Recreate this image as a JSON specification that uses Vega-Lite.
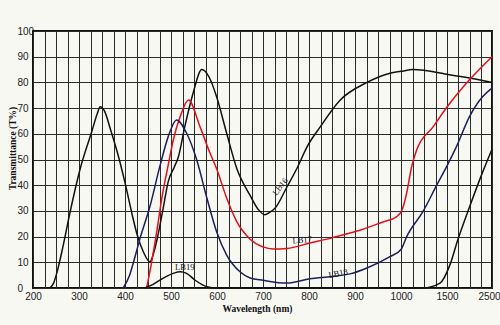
{
  "$schema": "https://vega.github.io/schema/vega-lite/v6.json",
  "width": 459,
  "height": 257,
  "autosize": "none",
  "padding": {"left": 33, "top": 31, "right": 8, "bottom": 37},
  "background": "#f8f8f3",
  "config": {
    "view": {"stroke": "#111111", "strokeWidth": 2},
    "font": "Liberation Serif"
  },
  "datasets": {
    "curves": [
      {"series": "LB16", "wavelength": 237, "T": 0},
      {"series": "LB16", "wavelength": 245, "T": 2},
      {"series": "LB16", "wavelength": 252, "T": 6},
      {"series": "LB16", "wavelength": 265, "T": 16},
      {"series": "LB16", "wavelength": 280, "T": 29},
      {"series": "LB16", "wavelength": 302, "T": 46},
      {"series": "LB16", "wavelength": 328, "T": 61},
      {"series": "LB16", "wavelength": 340, "T": 68},
      {"series": "LB16", "wavelength": 346, "T": 70.5},
      {"series": "LB16", "wavelength": 355, "T": 69},
      {"series": "LB16", "wavelength": 368, "T": 62},
      {"series": "LB16", "wavelength": 383, "T": 53},
      {"series": "LB16", "wavelength": 400, "T": 41},
      {"series": "LB16", "wavelength": 415, "T": 29},
      {"series": "LB16", "wavelength": 426, "T": 21},
      {"series": "LB16", "wavelength": 440, "T": 14},
      {"series": "LB16", "wavelength": 454, "T": 10.2},
      {"series": "LB16", "wavelength": 465, "T": 15.4},
      {"series": "LB16", "wavelength": 483, "T": 31},
      {"series": "LB16", "wavelength": 494, "T": 41.4},
      {"series": "LB16", "wavelength": 507, "T": 47},
      {"series": "LB16", "wavelength": 516, "T": 51},
      {"series": "LB16", "wavelength": 530, "T": 62.8},
      {"series": "LB16", "wavelength": 548, "T": 75.8},
      {"series": "LB16", "wavelength": 567, "T": 85},
      {"series": "LB16", "wavelength": 583, "T": 82},
      {"series": "LB16", "wavelength": 599, "T": 74.5},
      {"series": "LB16", "wavelength": 621, "T": 60.2},
      {"series": "LB16", "wavelength": 643, "T": 46.5},
      {"series": "LB16", "wavelength": 672, "T": 36},
      {"series": "LB16", "wavelength": 690, "T": 30.5},
      {"series": "LB16", "wavelength": 704, "T": 28.5},
      {"series": "LB16", "wavelength": 715, "T": 29.5},
      {"series": "LB16", "wavelength": 726, "T": 31},
      {"series": "LB16", "wavelength": 752, "T": 39.3},
      {"series": "LB16", "wavelength": 775, "T": 47},
      {"series": "LB16", "wavelength": 796, "T": 55},
      {"series": "LB16", "wavelength": 824, "T": 62.6},
      {"series": "LB16", "wavelength": 867, "T": 73},
      {"series": "LB16", "wavelength": 926, "T": 80},
      {"series": "LB16", "wavelength": 976, "T": 83.6},
      {"series": "LB16", "wavelength": 1000, "T": 84.3},
      {"series": "LB16", "wavelength": 1130, "T": 85},
      {"series": "LB16", "wavelength": 1550, "T": 83},
      {"series": "LB16", "wavelength": 2000, "T": 81.7},
      {"series": "LB16", "wavelength": 2500, "T": 80},

      {"series": "LB17", "wavelength": 447, "T": 0},
      {"series": "LB17", "wavelength": 458, "T": 10.2},
      {"series": "LB17", "wavelength": 469, "T": 21.9},
      {"series": "LB17", "wavelength": 480, "T": 34.9},
      {"series": "LB17", "wavelength": 494, "T": 47.9},
      {"series": "LB17", "wavelength": 505, "T": 57.6},
      {"series": "LB17", "wavelength": 520, "T": 66.7},
      {"series": "LB17", "wavelength": 538, "T": 73.2},
      {"series": "LB17", "wavelength": 563, "T": 62.8},
      {"series": "LB17", "wavelength": 585, "T": 52.4},
      {"series": "LB17", "wavelength": 599, "T": 46.5},
      {"series": "LB17", "wavelength": 621, "T": 35},
      {"series": "LB17", "wavelength": 643, "T": 25.8},
      {"series": "LB17", "wavelength": 672, "T": 19},
      {"series": "LB17", "wavelength": 700, "T": 16},
      {"series": "LB17", "wavelength": 722, "T": 15.2},
      {"series": "LB17", "wavelength": 752, "T": 15.4},
      {"series": "LB17", "wavelength": 802, "T": 17.5},
      {"series": "LB17", "wavelength": 850, "T": 19.5},
      {"series": "LB17", "wavelength": 889, "T": 21.4},
      {"series": "LB17", "wavelength": 911, "T": 22.5},
      {"series": "LB17", "wavelength": 962, "T": 25.8},
      {"series": "LB17", "wavelength": 990, "T": 27.7},
      {"series": "LB17", "wavelength": 1007, "T": 30},
      {"series": "LB17", "wavelength": 1035, "T": 33},
      {"series": "LB17", "wavelength": 1062, "T": 37},
      {"series": "LB17", "wavelength": 1116, "T": 47.2},
      {"series": "LB17", "wavelength": 1170, "T": 53.7},
      {"series": "LB17", "wavelength": 1351, "T": 62.8},
      {"series": "LB17", "wavelength": 1500, "T": 70.4},
      {"series": "LB17", "wavelength": 2000, "T": 81},
      {"series": "LB17", "wavelength": 2500, "T": 90},

      {"series": "LB18", "wavelength": 396, "T": 0},
      {"series": "LB18", "wavelength": 410, "T": 5},
      {"series": "LB18", "wavelength": 420, "T": 11},
      {"series": "LB18", "wavelength": 433, "T": 19.5},
      {"series": "LB18", "wavelength": 454, "T": 31.6},
      {"series": "LB18", "wavelength": 476, "T": 47.5},
      {"series": "LB18", "wavelength": 494, "T": 58.9},
      {"series": "LB18", "wavelength": 512, "T": 65.4},
      {"series": "LB18", "wavelength": 534, "T": 60.2},
      {"series": "LB18", "wavelength": 556, "T": 49.8},
      {"series": "LB18", "wavelength": 578, "T": 35},
      {"series": "LB18", "wavelength": 599, "T": 22},
      {"series": "LB18", "wavelength": 621, "T": 12.8},
      {"series": "LB18", "wavelength": 650, "T": 6.3},
      {"series": "LB18", "wavelength": 672, "T": 3.9},
      {"series": "LB18", "wavelength": 700, "T": 3},
      {"series": "LB18", "wavelength": 752, "T": 1.9},
      {"series": "LB18", "wavelength": 802, "T": 3.6},
      {"series": "LB18", "wavelength": 850, "T": 4.5},
      {"series": "LB18", "wavelength": 889, "T": 5.5},
      {"series": "LB18", "wavelength": 926, "T": 7.8},
      {"series": "LB18", "wavelength": 976, "T": 12.2},
      {"series": "LB18", "wavelength": 1000, "T": 15},
      {"series": "LB18", "wavelength": 1062, "T": 20},
      {"series": "LB18", "wavelength": 1243, "T": 30},
      {"series": "LB18", "wavelength": 1388, "T": 40},
      {"series": "LB18", "wavelength": 1500, "T": 47.5},
      {"series": "LB18", "wavelength": 1710, "T": 55},
      {"series": "LB18", "wavelength": 2000, "T": 66.7},
      {"series": "LB18", "wavelength": 2290, "T": 74.4},
      {"series": "LB18", "wavelength": 2500, "T": 77.8},

      {"series": "LB19", "wavelength": 443, "T": 0},
      {"series": "LB19", "wavelength": 460, "T": 1.3},
      {"series": "LB19", "wavelength": 476, "T": 3.1},
      {"series": "LB19", "wavelength": 505, "T": 5.7},
      {"series": "LB19", "wavelength": 520, "T": 6.3},
      {"series": "LB19", "wavelength": 534, "T": 5.7},
      {"series": "LB19", "wavelength": 552, "T": 3.1},
      {"series": "LB19", "wavelength": 578, "T": 0.5},
      {"series": "LB19", "wavelength": 600, "T": 0},
      {"series": "LB19", "wavelength": 1239, "T": 0},
      {"series": "LB19", "wavelength": 1424, "T": 1.9},
      {"series": "LB19", "wavelength": 1565, "T": 9},
      {"series": "LB19", "wavelength": 1739, "T": 18.7},
      {"series": "LB19", "wavelength": 2000, "T": 31.5},
      {"series": "LB19", "wavelength": 2283, "T": 44.7},
      {"series": "LB19", "wavelength": 2500, "T": 54}
    ],
    "labels": [
      {"label": "LB16", "wavelength": 737, "T": 39.5},
      {"label": "LB17", "wavelength": 785, "T": 18.8},
      {"label": "LB18", "wavelength": 863, "T": 5.8},
      {"label": "LB19", "wavelength": 530, "T": 8.3}
    ]
  },
  "encoding": {
    "x": {
      "field": "wavelength",
      "type": "quantitative",
      "scale": {"domain": [200, 1000, 1500, 2500], "range": [0, 368, 414, 459], "nice": false, "zero": false},
      "axis": {
        "title": "Wavelength  (nm)",
        "titleFont": "Liberation Serif",
        "titleFontWeight": "bold",
        "titleFontSize": 9.5,
        "titleColor": "#111",
        "titleX": 224,
        "titleY": 20,
        "titleBaseline": "middle",
        "values": [200, 225, 250, 275, 300, 325, 350, 375, 400, 425, 450, 475, 500, 525, 550, 575, 600, 625, 650, 675, 700, 725, 750, 775, 800, 825, 850, 875, 900, 925, 950, 975, 1000, 1125, 1250, 1375, 1500, 1750, 2000, 2250, 2500],
        "labelExpr": "(datum.value <= 1000 && datum.value % 100 == 0) || datum.value == 1500 || datum.value == 2500 ? datum.value : ''",
        "labelOverlap": false,
        "labelFlush": false,
        "labelOffset": {"condition": {"test": "datum.value == 2500", "value": -3}, "value": 0},
        "labelFont": "Liberation Sans Narrow, Liberation Sans",
        "labelFontSize": 10,
        "labelColor": "#222",
        "labelPadding": 3,
        "ticks": false,
        "domain": false,
        "grid": true,
        "gridColor": "#2a2a2a",
        "gridWidth": 1,
        "gridOpacity": 1
      }
    },
    "y": {
      "field": "T",
      "type": "quantitative",
      "scale": {"domain": [0, 100], "nice": false},
      "axis": {
        "title": "Transmittance  (T%)",
        "titleFont": "Liberation Serif",
        "titleFontWeight": "bold",
        "titleFontSize": 9.5,
        "titleColor": "#111",
        "titleAngle": -90,
        "titleX": -21,
        "titleY": 117,
        "titleAlign": "center",
        "titleBaseline": "middle",
        "values": [0, 10, 20, 30, 40, 50, 60, 70, 80, 90, 100],
        "labelFont": "Liberation Sans Narrow, Liberation Sans",
        "labelFontSize": 10,
        "labelColor": "#222",
        "labelAlign": "left",
        "labelPadding": 16,
        "ticks": false,
        "domain": false,
        "grid": true,
        "gridColor": "#2a2a2a",
        "gridWidth": 1,
        "gridOpacity": 1
      }
    }
  },
  "layer": [
    {
      "data": {"name": "curves"},
      "mark": {"type": "line", "interpolate": "monotone", "strokeWidth": 1.5},
      "encoding": {
        "color": {
          "field": "series",
          "type": "nominal",
          "scale": {"domain": ["LB16", "LB17", "LB18", "LB19"], "range": ["#111111", "#e0101a", "#1c1f5a", "#111111"]},
          "legend": null
        }
      }
    },
    {
      "data": {"name": "labels"},
      "transform": [{"filter": "datum.label == 'LB16'"}],
      "mark": {"type": "text", "font": "Liberation Serif", "fontSize": 8.5, "angle": -52, "color": "#111"},
      "encoding": {"text": {"field": "label"}}
    },
    {
      "data": {"name": "labels"},
      "transform": [{"filter": "datum.label == 'LB17'"}],
      "mark": {"type": "text", "font": "Liberation Serif", "fontSize": 8.5, "angle": -5, "color": "#111"},
      "encoding": {"text": {"field": "label"}}
    },
    {
      "data": {"name": "labels"},
      "transform": [{"filter": "datum.label == 'LB18'"}],
      "mark": {"type": "text", "font": "Liberation Serif", "fontSize": 8.5, "angle": -12, "color": "#111"},
      "encoding": {"text": {"field": "label"}}
    },
    {
      "data": {"name": "labels"},
      "transform": [{"filter": "datum.label == 'LB19'"}],
      "mark": {"type": "text", "font": "Liberation Serif", "fontSize": 8.5, "angle": 0, "color": "#111"},
      "encoding": {"text": {"field": "label"}}
    }
  ]
}
